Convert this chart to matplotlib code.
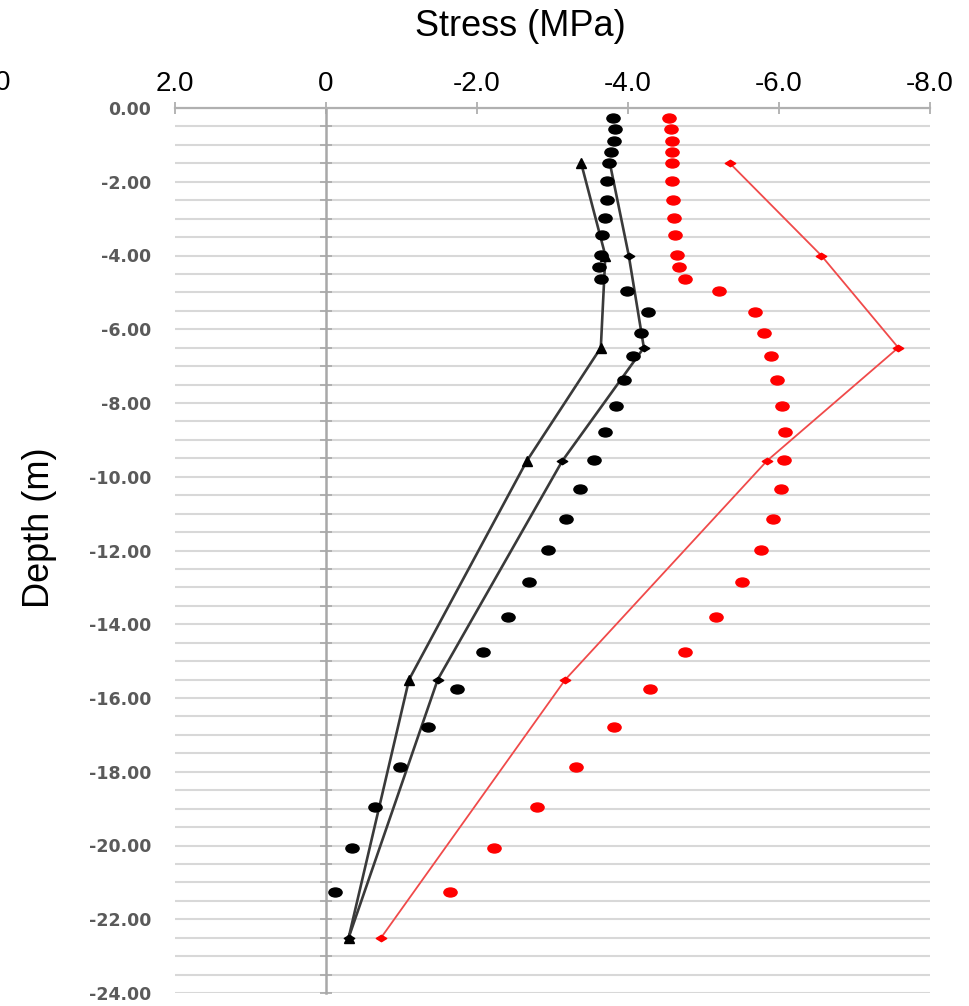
import numpy as np
import matplotlib
matplotlib.use("Agg")
import matplotlib.pyplot as plt
from matplotlib.path import Path

# ---------------- data ----------------
dot_depth = [-0.28, -0.58, -0.89, -1.18, -1.48, -1.98, -2.49, -2.99, -3.44, -3.98,
             -4.30, -4.63, -4.97, -5.53, -6.11, -6.72, -7.37, -8.07, -8.78, -9.54,
             -10.33, -11.14, -11.98, -12.86, -13.79, -14.75, -15.75, -16.79, -17.87,
             -18.96, -20.06, -21.27]
black_dots = [-3.80, -3.83, -3.81, -3.77, -3.75, -3.72, -3.72, -3.70, -3.66, -3.64,
              -3.62, -3.64, -3.99, -4.26, -4.17, -4.07, -3.95, -3.84, -3.70, -3.55,
              -3.37, -3.18, -2.94, -2.69, -2.41, -2.08, -1.73, -1.35, -0.98,
              -0.65, -0.35, -0.12]
red_dots = [-4.54, -4.57, -4.58, -4.58, -4.58, -4.58, -4.59, -4.61, -4.62, -4.65,
            -4.68, -4.75, -5.21, -5.68, -5.80, -5.89, -5.98, -6.04, -6.08, -6.07,
            -6.02, -5.92, -5.76, -5.51, -5.17, -4.75, -4.29, -3.81, -3.31,
            -2.79, -2.22, -1.64]

line_depth = [-1.5, -4.0, -6.5, -9.57, -15.5, -22.5]
tri_line = [-3.38, -3.70, -3.64, -2.66, -1.10, -0.30]
dia_line = [-3.76, -4.01, -4.21, -3.13, -1.48, -0.30]
red_line = [-5.35, -6.56, -7.58, -5.84, -3.17, -0.73]

x_ticks = [2.0, 0.0, -2.0, -4.0, -6.0, -8.0]
x_labels = ["2.0", "0", "-2.0", "-4.0", "-6.0", "-8.0"]
y_ticks = [0, -2, -4, -6, -8, -10, -12, -14, -16, -18, -20, -22, -24]
y_labels = ["0.00", "-2.00", "-4.00", "-6.00", "-8.00", "-10.00", "-12.00",
            "-14.00", "-16.00", "-18.00", "-20.00", "-22.00", "-24.00"]
y_minor = np.arange(-24, 0.01, 0.5)

# ---------------- markers ----------------
circ = Path.unit_circle()
ellipse = Path(circ.vertices * np.array([1.0, 0.68]), circ.codes)
flat_diamond = Path([(-1, 0), (0, 0.62), (1, 0), (0, -0.62), (-1, 0)],
                    [Path.MOVETO, Path.LINETO, Path.LINETO, Path.LINETO, Path.CLOSEPOLY])

# ---------------- figure ----------------
fig = plt.figure(figsize=(9.7, 10.06), dpi=100)
ax = fig.add_axes([175 / 970, 1 - 993 / 1006, 755 / 970, 885 / 1006])
ax.set_xlim(2.0, -8.0)
ax.set_ylim(-24, 0)

# grid lines every 0.5 m
ax.set_yticks(y_ticks)
ax.set_yticks(y_minor, minor=True)
ax.grid(True, which="both", axis="y", color="#d8d8d8", lw=1.5, zorder=0)
ax.set_axisbelow(True)

for s in ["bottom", "right"]:
    ax.spines[s].set_visible(False)
ax.spines["top"].set_color("#b0b0b0")
ax.spines["top"].set_linewidth(1.6)
ax.spines["left"].set_position(("data", 0))
ax.spines["left"].set_color("#a8a8a8")
ax.spines["left"].set_linewidth(1.8)

ax.xaxis.tick_top()
ax.set_xticks(x_ticks)
ax.set_xticklabels(x_labels, fontfamily="Liberation Sans", fontsize=20)
ax.tick_params(axis="x", which="both", direction="inout", length=8, width=1.2,
               color="#a8a8a8", pad=4, top=True, bottom=False)
ax.tick_params(axis="y", which="both", direction="inout", length=9, width=1.2,
               color="#a8a8a8", labelleft=False)

# y labels at left edge
sec = ax.secondary_yaxis(0.0)
sec.set_yticks(y_ticks)
sec.set_yticklabels(y_labels, fontfamily="DejaVu Sans", fontweight="bold",
                    fontsize=12.5, color="#5a5a5a")
sec.tick_params(length=0, pad=17)
sec.spines["left"].set_visible(False)

# ---------------- series ----------------
ax.plot(tri_line, line_depth, color="#3a3a3a", lw=1.9, marker="^", ms=6.5,
        mfc="#000000", mec="#000000", zorder=3)
ax.plot(dia_line, line_depth, color="#3a3a3a", lw=1.9, marker=flat_diamond, ms=7.5,
        mfc="#000000", mec="#000000", zorder=3)
ax.plot(red_line, line_depth, color="#f04a4a", lw=1.3, marker=flat_diamond, ms=7.5,
        mfc="#ff0000", mec="#ff0000", zorder=3)
ax.plot(black_dots, dot_depth, ls="none", marker=ellipse, ms=9.5,
        mfc="#000000", mec="#000000", zorder=4)
ax.plot(red_dots, dot_depth, ls="none", marker=ellipse, ms=9.5,
        mfc="#ff0000", mec="#ff0000", zorder=4)

# ---------------- titles ----------------
fig.text(520 / 970, 1 - 27 / 1006, "Stress (MPa)", fontfamily="Liberation Sans",
         fontsize=26, ha="center", va="center")
fig.text(40 / 970, 1 - 528 / 1006, "Depth (m)", fontfamily="Liberation Sans",
         fontsize=26, ha="center", va="center", rotation=90)
fig.text(-5 / 970, 1 - 83 / 1006, "0", fontfamily="Liberation Sans",
         fontsize=20, ha="left", va="center")

fig.savefig("out.png", dpi=100)
